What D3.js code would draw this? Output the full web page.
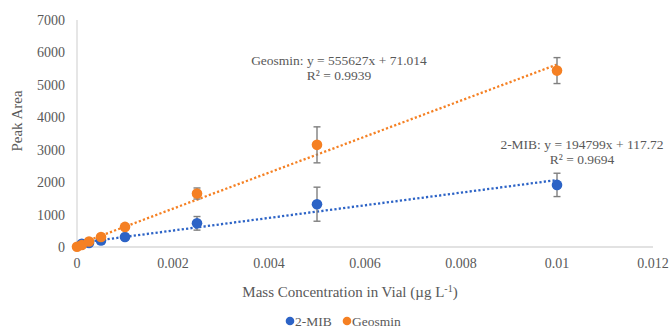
<!DOCTYPE html>
<html>
<head>
<meta charset="utf-8">
<script src="https://cdn.jsdelivr.net/npm/d3@7"></script>
<style>
  body { margin: 0; background: #fff; }
  text { font-family: "Liberation Serif", "Times New Roman", serif; fill: #595959; }
</style>
</head>
<body>
<div class="chart"></div>
<script>
// values
var xTicks = [0, 0.002, 0.004, 0.006, 0.008, 0.01, 0.012];
var yTicks = [0, 1000, 2000, 3000, 4000, 5000, 6000, 7000];

var mibX   = [0.0001, 0.00025, 0.0005, 0.001, 0.0025, 0.005, 0.01];
var mibY   = [100, 125, 200, 310, 730, 1320, 1915];
var mibErr = [20, 30, 110, 40, 210, 525, 360];

var geoX   = [0, 0.0001, 0.00025, 0.0005, 0.001, 0.0025, 0.005, 0.01];
var geoY   = [10, 60, 170, 310, 620, 1650, 3150, 5440];
var geoErr = [5, 10, 20, 40, 40, 170, 555, 400];

var seriesNames = ["2-MIB", "Geosmin"];
var trendSlope = [194799, 555627];
var trendIntercept = [117.72, 71.014];
var trendLabel = ["2-MIB: y = 194799x + 117.72", "Geosmin: y = 555627x + 71.014"];
var r2Label = ["R\u00B2 = 0.9694", "R\u00B2 = 0.9939"];

var width = 669, height = 330;
var colors = ["#2c63c6", "#f58023"];

var x = d3.scaleLinear().domain([0, 0.012]).range([77, 653]);
var y = d3.scaleLinear().domain([0, 7000]).range([247, 20]);

var svg = d3.select(".chart").append("svg")
    .attr("width", width)
    .attr("height", height);

// axes lines
svg.append("line")
    .attr("x1", x(0)).attr("x2", x(0))
    .attr("y1", y(7000)).attr("y2", y(0))
    .attr("stroke", "#d9d9d9").attr("stroke-width", 1.3);
svg.append("line")
    .attr("x1", x(0)).attr("x2", x(0.012))
    .attr("y1", y(0)).attr("y2", y(0))
    .attr("stroke", "#d9d9d9").attr("stroke-width", 1.3);

// tick labels
svg.selectAll(".ylab").data(yTicks).enter().append("text")
    .attr("class", "ylab")
    .attr("x", 65)
    .attr("y", function(d) { return y(d) + 5; })
    .attr("text-anchor", "end")
    .style("font-size", "14px")
    .text(function(d) { return d; });

svg.selectAll(".xlab").data(xTicks).enter().append("text")
    .attr("class", "xlab")
    .attr("x", function(d) { return x(d); })
    .attr("y", 268)
    .attr("text-anchor", "middle")
    .style("font-size", "14px")
    .text(function(d) { return d; });

// axis titles
svg.append("text")
    .attr("transform", "translate(22,121) rotate(-90)")
    .attr("text-anchor", "middle")
    .style("font-size", "15px")
    .text("Peak Area");

var xt = svg.append("text")
    .attr("x", 350)
    .attr("y", 297)
    .attr("text-anchor", "middle")
    .style("font-size", "15px");
xt.append("tspan").text("Mass Concentration in Vial (\u00B5g L");
xt.append("tspan").attr("dy", -5).style("font-size", "10px").text("-1");
xt.append("tspan").attr("dy", 5).text(")");

// trend lines
[0, 1].forEach(function(i) {
  svg.append("line")
      .attr("x1", x(0)).attr("y1", y(trendIntercept[i]))
      .attr("x2", x(0.01)).attr("y2", y(trendSlope[i] * 0.01 + trendIntercept[i]))
      .attr("stroke", colors[i])
      .attr("stroke-width", 2.3)
      .attr("stroke-dasharray", "2.2,2.2");
});

// error bars + points
var all = [
  mibX.map(function(v, i) { return {x: v, y: mibY[i], e: mibErr[i]}; }),
  geoX.map(function(v, i) { return {x: v, y: geoY[i], e: geoErr[i]}; })
];

all.forEach(function(pts, s) {
  var g = svg.append("g");
  var eb = g.selectAll(".err").data(pts).enter().append("g");
  eb.append("line")
      .attr("x1", function(d) { return x(d.x); })
      .attr("x2", function(d) { return x(d.x); })
      .attr("y1", function(d) { return y(d.y + d.e); })
      .attr("y2", function(d) { return y(d.y - d.e); })
      .attr("stroke", "#7f7f7f").attr("stroke-width", 1.4);
  [1, -1].forEach(function(sg) {
    eb.append("line")
        .attr("x1", function(d) { return x(d.x) - 3.5; })
        .attr("x2", function(d) { return x(d.x) + 3.5; })
        .attr("y1", function(d) { return y(d.y + sg * d.e); })
        .attr("y2", function(d) { return y(d.y + sg * d.e); })
        .attr("stroke", "#7f7f7f").attr("stroke-width", 1.4);
  });
  g.selectAll("circle").data(pts).enter().append("circle")
      .attr("cx", function(d) { return x(d.x); })
      .attr("cy", function(d) { return y(d.y); })
      .attr("r", 5.3)
      .attr("fill", colors[s]);
});

// trendline labels
var labPos = [[582, 149], [339, 65]];
[0, 1].forEach(function(i) {
  svg.append("text")
      .attr("x", labPos[i][0]).attr("y", labPos[i][1])
      .attr("text-anchor", "middle")
      .style("font-size", "13.5px")
      .text(trendLabel[i]);
  svg.append("text")
      .attr("x", labPos[i][0]).attr("y", labPos[i][1] + 15)
      .attr("text-anchor", "middle")
      .style("font-size", "13.5px")
      .text(r2Label[i]);
});

// legend
var legX = [290, 347];
seriesNames.forEach(function(n, i) {
  svg.append("circle")
      .attr("cx", legX[i]).attr("cy", 321)
      .attr("r", 4.3)
      .attr("fill", colors[i]);
  svg.append("text")
      .attr("x", legX[i] + 5).attr("y", 326)
      .style("font-size", "13.5px")
      .text(n);
});
</script>
</body>
</html>
